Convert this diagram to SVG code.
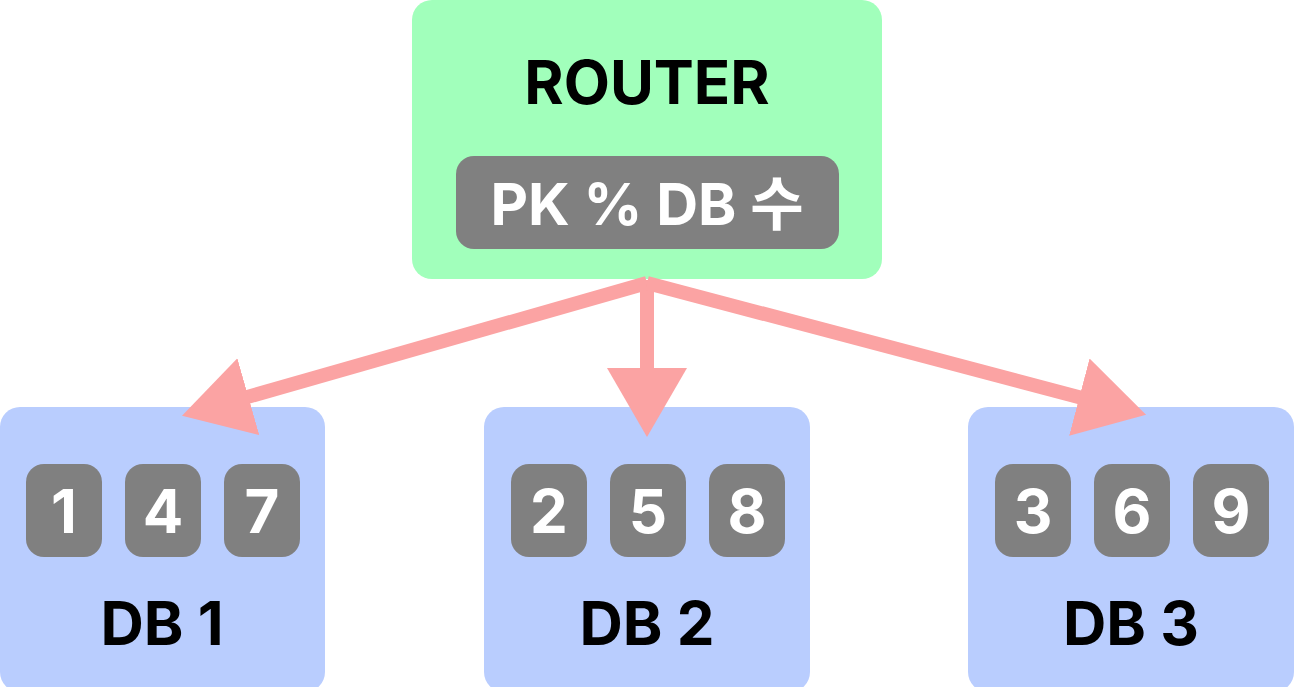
<svg xmlns="http://www.w3.org/2000/svg" width="1294" height="687" viewBox="0 0 1294 687">
<style>
.t{font-family:Inter,"Noto Sans CJK KR",sans-serif;font-weight:700;text-anchor:middle}
.router{fill:#a1ffbb}
.db{fill:#b9cdfe}
.chip{fill:#808080}
.w{fill:#ffffff}
.k{fill:#000000}
.conn{stroke:#fba3a3;stroke-width:14;fill:none}
</style>
<defs>
<marker id="ah" markerUnits="userSpaceOnUse" markerWidth="70" markerHeight="80" refX="1" refY="40" orient="auto" viewBox="0 0 70 80">
<path d="M0,0 L69,40 L0,80 z" fill="#fba3a3"/>
</marker>
</defs>
<g id="router">
<rect class="router" x="412" y="0" width="470" height="279" rx="20"/>
<text class="t k" x="647" y="104" font-size="60">ROUTER</text>
<rect class="chip" x="456" y="156" width="383" height="93" rx="18"/>
<text class="t w" x="647" y="225" font-size="58">PK % DB 수</text>
</g>
<g id="db1">
<rect class="db" x="0" y="407" width="325" height="285" rx="20"/>
<rect class="chip" x="26" y="464" width="76" height="93" rx="18"/>
<rect class="chip" x="125" y="464" width="76" height="93" rx="18"/>
<rect class="chip" x="224" y="464" width="76" height="93" rx="18"/>
<text class="t w" x="64" y="533" font-size="60">1</text>
<text class="t w" x="163" y="533" font-size="60">4</text>
<text class="t w" x="262" y="533" font-size="60">7</text>
<text class="t k" x="162" y="645" font-size="60">DB 1</text>
</g>
<g id="db2">
<rect class="db" x="484" y="407" width="326" height="285" rx="20"/>
<rect class="chip" x="511" y="464" width="76" height="93" rx="18"/>
<rect class="chip" x="610" y="464" width="76" height="93" rx="18"/>
<rect class="chip" x="709" y="464" width="76" height="93" rx="18"/>
<text class="t w" x="549" y="533" font-size="60">2</text>
<text class="t w" x="648" y="533" font-size="60">5</text>
<text class="t w" x="747" y="533" font-size="60">8</text>
<text class="t k" x="647" y="645" font-size="60">DB 2</text>
</g>
<g id="db3">
<rect class="db" x="968" y="407" width="326" height="285" rx="20"/>
<rect class="chip" x="995" y="464" width="76" height="93" rx="18"/>
<rect class="chip" x="1094" y="464" width="76" height="93" rx="18"/>
<rect class="chip" x="1193" y="464" width="76" height="93" rx="18"/>
<text class="t w" x="1033" y="533" font-size="60">3</text>
<text class="t w" x="1132" y="533" font-size="60">6</text>
<text class="t w" x="1231" y="533" font-size="60">9</text>
<text class="t k" x="1131" y="645" font-size="60">DB 3</text>
</g>
<g id="connectors">
<line class="conn" x1="647" y1="283" x2="247.4" y2="397" marker-end="url(#ah)"/>
<line class="conn" x1="647" y1="280" x2="647" y2="369" marker-end="url(#ah)"/>
<line class="conn" x1="647" y1="283" x2="1080.3" y2="397.4" marker-end="url(#ah)"/>
</g>
</svg>
